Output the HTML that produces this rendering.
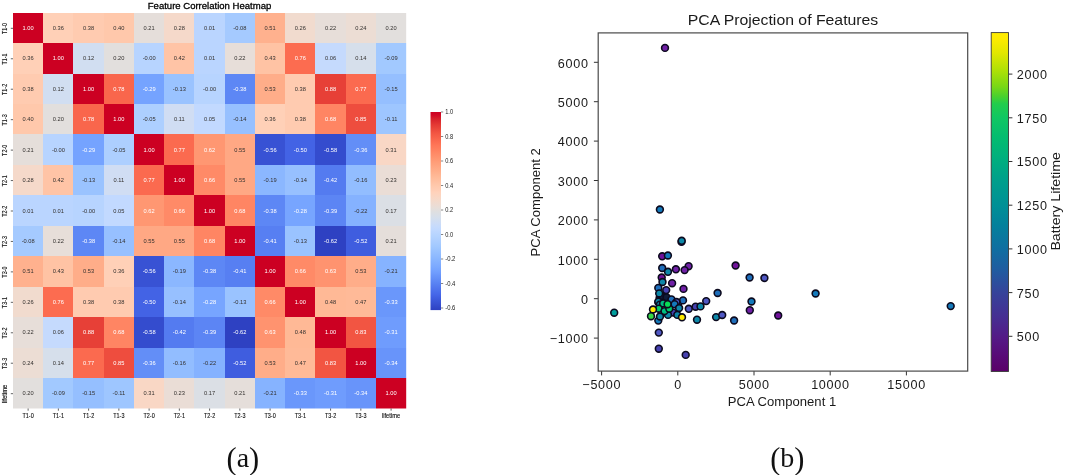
<!DOCTYPE html>
<html><head><meta charset="utf-8"><title>Figure</title>
<style>
html,body{margin:0;padding:0;background:#fff;}
body{width:1065px;height:475px;overflow:hidden;font-family:"Liberation Sans",sans-serif;}
svg{display:block;will-change:transform;filter:blur(0.4px);}
</style></head><body>
<svg width="1065" height="475" viewBox="0 0 1065 475">
<rect width="1065" height="475" fill="#fff"/>
<g shape-rendering="crispEdges">
<rect x="13.00" y="12.70" width="30.55" height="30.75" fill="#cc0022"/>
<rect x="43.25" y="12.70" width="30.55" height="30.75" fill="#ffd0b7"/>
<rect x="73.49" y="12.70" width="30.55" height="30.75" fill="#ffcbb0"/>
<rect x="103.74" y="12.70" width="30.55" height="30.75" fill="#ffc8ab"/>
<rect x="133.98" y="12.70" width="30.55" height="30.75" fill="#e5deda"/>
<rect x="164.23" y="12.70" width="30.55" height="30.75" fill="#f5d9ca"/>
<rect x="194.48" y="12.70" width="30.55" height="30.75" fill="#bad5ff"/>
<rect x="224.72" y="12.70" width="30.55" height="30.75" fill="#a5caff"/>
<rect x="254.97" y="12.70" width="30.55" height="30.75" fill="#ffb18e"/>
<rect x="285.22" y="12.70" width="30.55" height="30.75" fill="#f1dbce"/>
<rect x="315.46" y="12.70" width="30.55" height="30.75" fill="#e7ded9"/>
<rect x="345.71" y="12.70" width="30.55" height="30.75" fill="#ecddd4"/>
<rect x="375.95" y="12.70" width="30.55" height="30.75" fill="#e2dfdd"/>
<rect x="13.00" y="43.15" width="30.55" height="30.75" fill="#ffd0b7"/>
<rect x="43.25" y="43.15" width="30.55" height="30.75" fill="#cc0022"/>
<rect x="73.49" y="43.15" width="30.55" height="30.75" fill="#d1def1"/>
<rect x="103.74" y="43.15" width="30.55" height="30.75" fill="#e2dfdd"/>
<rect x="133.98" y="43.15" width="30.55" height="30.75" fill="#b7d4ff"/>
<rect x="164.23" y="43.15" width="30.55" height="30.75" fill="#ffc4a6"/>
<rect x="194.48" y="43.15" width="30.55" height="30.75" fill="#bad5ff"/>
<rect x="224.72" y="43.15" width="30.55" height="30.75" fill="#e7ded9"/>
<rect x="254.97" y="43.15" width="30.55" height="30.75" fill="#ffc3a4"/>
<rect x="285.22" y="43.15" width="30.55" height="30.75" fill="#fc6c50"/>
<rect x="315.46" y="43.15" width="30.55" height="30.75" fill="#c5dafd"/>
<rect x="345.71" y="43.15" width="30.55" height="30.75" fill="#d6dfeb"/>
<rect x="375.95" y="43.15" width="30.55" height="30.75" fill="#a2c9ff"/>
<rect x="13.00" y="73.59" width="30.55" height="30.75" fill="#ffcbb0"/>
<rect x="43.25" y="73.59" width="30.55" height="30.75" fill="#d1def1"/>
<rect x="73.49" y="73.59" width="30.55" height="30.75" fill="#cc0022"/>
<rect x="103.74" y="73.59" width="30.55" height="30.75" fill="#f9664c"/>
<rect x="133.98" y="73.59" width="30.55" height="30.75" fill="#75a3ff"/>
<rect x="164.23" y="73.59" width="30.55" height="30.75" fill="#9ac3ff"/>
<rect x="194.48" y="73.59" width="30.55" height="30.75" fill="#b7d4ff"/>
<rect x="224.72" y="73.59" width="30.55" height="30.75" fill="#5d87f5"/>
<rect x="254.97" y="73.59" width="30.55" height="30.75" fill="#ffad89"/>
<rect x="285.22" y="73.59" width="30.55" height="30.75" fill="#ffcbb0"/>
<rect x="315.46" y="73.59" width="30.55" height="30.75" fill="#e74037"/>
<rect x="345.71" y="73.59" width="30.55" height="30.75" fill="#fb6a4f"/>
<rect x="375.95" y="73.59" width="30.55" height="30.75" fill="#95bfff"/>
<rect x="13.00" y="104.04" width="30.55" height="30.75" fill="#ffc8ab"/>
<rect x="43.25" y="104.04" width="30.55" height="30.75" fill="#e2dfdd"/>
<rect x="73.49" y="104.04" width="30.55" height="30.75" fill="#f9664c"/>
<rect x="103.74" y="104.04" width="30.55" height="30.75" fill="#cc0022"/>
<rect x="133.98" y="104.04" width="30.55" height="30.75" fill="#adcfff"/>
<rect x="164.23" y="104.04" width="30.55" height="30.75" fill="#d0ddf3"/>
<rect x="194.48" y="104.04" width="30.55" height="30.75" fill="#c2d9ff"/>
<rect x="224.72" y="104.04" width="30.55" height="30.75" fill="#97c0ff"/>
<rect x="254.97" y="104.04" width="30.55" height="30.75" fill="#ffd0b7"/>
<rect x="285.22" y="104.04" width="30.55" height="30.75" fill="#ffcbb0"/>
<rect x="315.46" y="104.04" width="30.55" height="30.75" fill="#ff8563"/>
<rect x="345.71" y="104.04" width="30.55" height="30.75" fill="#ee4d3e"/>
<rect x="375.95" y="104.04" width="30.55" height="30.75" fill="#9ec6ff"/>
<rect x="13.00" y="134.48" width="30.55" height="30.75" fill="#e5deda"/>
<rect x="43.25" y="134.48" width="30.55" height="30.75" fill="#b7d4ff"/>
<rect x="73.49" y="134.48" width="30.55" height="30.75" fill="#75a3ff"/>
<rect x="103.74" y="134.48" width="30.55" height="30.75" fill="#adcfff"/>
<rect x="133.98" y="134.48" width="30.55" height="30.75" fill="#cc0022"/>
<rect x="164.23" y="134.48" width="30.55" height="30.75" fill="#fb6a4f"/>
<rect x="194.48" y="134.48" width="30.55" height="30.75" fill="#ff9772"/>
<rect x="224.72" y="134.48" width="30.55" height="30.75" fill="#ffa884"/>
<rect x="254.97" y="134.48" width="30.55" height="30.75" fill="#3852d4"/>
<rect x="285.22" y="134.48" width="30.55" height="30.75" fill="#4363e5"/>
<rect x="315.46" y="134.48" width="30.55" height="30.75" fill="#344cce"/>
<rect x="345.71" y="134.48" width="30.55" height="30.75" fill="#638ef7"/>
<rect x="375.95" y="134.48" width="30.55" height="30.75" fill="#f9d7c5"/>
<rect x="13.00" y="164.93" width="30.55" height="30.75" fill="#f5d9ca"/>
<rect x="43.25" y="164.93" width="30.55" height="30.75" fill="#ffc4a6"/>
<rect x="73.49" y="164.93" width="30.55" height="30.75" fill="#9ac3ff"/>
<rect x="103.74" y="164.93" width="30.55" height="30.75" fill="#d0ddf3"/>
<rect x="133.98" y="164.93" width="30.55" height="30.75" fill="#fb6a4f"/>
<rect x="164.23" y="164.93" width="30.55" height="30.75" fill="#cc0022"/>
<rect x="194.48" y="164.93" width="30.55" height="30.75" fill="#ff8a67"/>
<rect x="224.72" y="164.93" width="30.55" height="30.75" fill="#ffa884"/>
<rect x="254.97" y="164.93" width="30.55" height="30.75" fill="#8bb7ff"/>
<rect x="285.22" y="164.93" width="30.55" height="30.75" fill="#97c0ff"/>
<rect x="315.46" y="164.93" width="30.55" height="30.75" fill="#547bf0"/>
<rect x="345.71" y="164.93" width="30.55" height="30.75" fill="#92bdff"/>
<rect x="375.95" y="164.93" width="30.55" height="30.75" fill="#eaddd6"/>
<rect x="13.00" y="195.38" width="30.55" height="30.75" fill="#bad5ff"/>
<rect x="43.25" y="195.38" width="30.55" height="30.75" fill="#bad5ff"/>
<rect x="73.49" y="195.38" width="30.55" height="30.75" fill="#b7d4ff"/>
<rect x="103.74" y="195.38" width="30.55" height="30.75" fill="#c2d9ff"/>
<rect x="133.98" y="195.38" width="30.55" height="30.75" fill="#ff9772"/>
<rect x="164.23" y="195.38" width="30.55" height="30.75" fill="#ff8a67"/>
<rect x="194.48" y="195.38" width="30.55" height="30.75" fill="#cc0022"/>
<rect x="224.72" y="195.38" width="30.55" height="30.75" fill="#ff8563"/>
<rect x="254.97" y="195.38" width="30.55" height="30.75" fill="#5d87f5"/>
<rect x="285.22" y="195.38" width="30.55" height="30.75" fill="#77a5ff"/>
<rect x="315.46" y="195.38" width="30.55" height="30.75" fill="#5c85f4"/>
<rect x="345.71" y="195.38" width="30.55" height="30.75" fill="#85b2ff"/>
<rect x="375.95" y="195.38" width="30.55" height="30.75" fill="#dbdfe5"/>
<rect x="13.00" y="225.82" width="30.55" height="30.75" fill="#a5caff"/>
<rect x="43.25" y="225.82" width="30.55" height="30.75" fill="#e7ded9"/>
<rect x="73.49" y="225.82" width="30.55" height="30.75" fill="#5d87f5"/>
<rect x="103.74" y="225.82" width="30.55" height="30.75" fill="#97c0ff"/>
<rect x="133.98" y="225.82" width="30.55" height="30.75" fill="#ffa884"/>
<rect x="164.23" y="225.82" width="30.55" height="30.75" fill="#ffa884"/>
<rect x="194.48" y="225.82" width="30.55" height="30.75" fill="#ff8563"/>
<rect x="224.72" y="225.82" width="30.55" height="30.75" fill="#cc0022"/>
<rect x="254.97" y="225.82" width="30.55" height="30.75" fill="#577ff2"/>
<rect x="285.22" y="225.82" width="30.55" height="30.75" fill="#9ac3ff"/>
<rect x="315.46" y="225.82" width="30.55" height="30.75" fill="#2e41c2"/>
<rect x="345.71" y="225.82" width="30.55" height="30.75" fill="#3f5ddf"/>
<rect x="375.95" y="225.82" width="30.55" height="30.75" fill="#e5deda"/>
<rect x="13.00" y="256.27" width="30.55" height="30.75" fill="#ffb18e"/>
<rect x="43.25" y="256.27" width="30.55" height="30.75" fill="#ffc3a4"/>
<rect x="73.49" y="256.27" width="30.55" height="30.75" fill="#ffad89"/>
<rect x="103.74" y="256.27" width="30.55" height="30.75" fill="#ffd0b7"/>
<rect x="133.98" y="256.27" width="30.55" height="30.75" fill="#3852d4"/>
<rect x="164.23" y="256.27" width="30.55" height="30.75" fill="#8bb7ff"/>
<rect x="194.48" y="256.27" width="30.55" height="30.75" fill="#5d87f5"/>
<rect x="224.72" y="256.27" width="30.55" height="30.75" fill="#577ff2"/>
<rect x="254.97" y="256.27" width="30.55" height="30.75" fill="#cc0022"/>
<rect x="285.22" y="256.27" width="30.55" height="30.75" fill="#ff8a67"/>
<rect x="315.46" y="256.27" width="30.55" height="30.75" fill="#ff936f"/>
<rect x="345.71" y="256.27" width="30.55" height="30.75" fill="#ffad89"/>
<rect x="375.95" y="256.27" width="30.55" height="30.75" fill="#86b3ff"/>
<rect x="13.00" y="286.72" width="30.55" height="30.75" fill="#f1dbce"/>
<rect x="43.25" y="286.72" width="30.55" height="30.75" fill="#fc6c50"/>
<rect x="73.49" y="286.72" width="30.55" height="30.75" fill="#ffcbb0"/>
<rect x="103.74" y="286.72" width="30.55" height="30.75" fill="#ffcbb0"/>
<rect x="133.98" y="286.72" width="30.55" height="30.75" fill="#4363e5"/>
<rect x="164.23" y="286.72" width="30.55" height="30.75" fill="#97c0ff"/>
<rect x="194.48" y="286.72" width="30.55" height="30.75" fill="#77a5ff"/>
<rect x="224.72" y="286.72" width="30.55" height="30.75" fill="#9ac3ff"/>
<rect x="254.97" y="286.72" width="30.55" height="30.75" fill="#ff8a67"/>
<rect x="285.22" y="286.72" width="30.55" height="30.75" fill="#cc0022"/>
<rect x="315.46" y="286.72" width="30.55" height="30.75" fill="#ffb996"/>
<rect x="345.71" y="286.72" width="30.55" height="30.75" fill="#ffba98"/>
<rect x="375.95" y="286.72" width="30.55" height="30.75" fill="#6a97fb"/>
<rect x="13.00" y="317.16" width="30.55" height="30.75" fill="#e7ded9"/>
<rect x="43.25" y="317.16" width="30.55" height="30.75" fill="#c5dafd"/>
<rect x="73.49" y="317.16" width="30.55" height="30.75" fill="#e74037"/>
<rect x="103.74" y="317.16" width="30.55" height="30.75" fill="#ff8563"/>
<rect x="133.98" y="317.16" width="30.55" height="30.75" fill="#344cce"/>
<rect x="164.23" y="317.16" width="30.55" height="30.75" fill="#547bf0"/>
<rect x="194.48" y="317.16" width="30.55" height="30.75" fill="#5c85f4"/>
<rect x="224.72" y="317.16" width="30.55" height="30.75" fill="#2e41c2"/>
<rect x="254.97" y="317.16" width="30.55" height="30.75" fill="#ff936f"/>
<rect x="285.22" y="317.16" width="30.55" height="30.75" fill="#ffb996"/>
<rect x="315.46" y="317.16" width="30.55" height="30.75" fill="#cc0022"/>
<rect x="345.71" y="317.16" width="30.55" height="30.75" fill="#f25542"/>
<rect x="375.95" y="317.16" width="30.55" height="30.75" fill="#6f9cfd"/>
<rect x="13.00" y="347.61" width="30.55" height="30.75" fill="#ecddd4"/>
<rect x="43.25" y="347.61" width="30.55" height="30.75" fill="#d6dfeb"/>
<rect x="73.49" y="347.61" width="30.55" height="30.75" fill="#fb6a4f"/>
<rect x="103.74" y="347.61" width="30.55" height="30.75" fill="#ee4d3e"/>
<rect x="133.98" y="347.61" width="30.55" height="30.75" fill="#638ef7"/>
<rect x="164.23" y="347.61" width="30.55" height="30.75" fill="#92bdff"/>
<rect x="194.48" y="347.61" width="30.55" height="30.75" fill="#85b2ff"/>
<rect x="224.72" y="347.61" width="30.55" height="30.75" fill="#3f5ddf"/>
<rect x="254.97" y="347.61" width="30.55" height="30.75" fill="#ffad89"/>
<rect x="285.22" y="347.61" width="30.55" height="30.75" fill="#ffba98"/>
<rect x="315.46" y="347.61" width="30.55" height="30.75" fill="#f25542"/>
<rect x="345.71" y="347.61" width="30.55" height="30.75" fill="#cc0022"/>
<rect x="375.95" y="347.61" width="30.55" height="30.75" fill="#6894fa"/>
<rect x="13.00" y="378.05" width="30.55" height="30.75" fill="#e2dfdd"/>
<rect x="43.25" y="378.05" width="30.55" height="30.75" fill="#a2c9ff"/>
<rect x="73.49" y="378.05" width="30.55" height="30.75" fill="#95bfff"/>
<rect x="103.74" y="378.05" width="30.55" height="30.75" fill="#9ec6ff"/>
<rect x="133.98" y="378.05" width="30.55" height="30.75" fill="#f9d7c5"/>
<rect x="164.23" y="378.05" width="30.55" height="30.75" fill="#eaddd6"/>
<rect x="194.48" y="378.05" width="30.55" height="30.75" fill="#dbdfe5"/>
<rect x="224.72" y="378.05" width="30.55" height="30.75" fill="#e5deda"/>
<rect x="254.97" y="378.05" width="30.55" height="30.75" fill="#86b3ff"/>
<rect x="285.22" y="378.05" width="30.55" height="30.75" fill="#6a97fb"/>
<rect x="315.46" y="378.05" width="30.55" height="30.75" fill="#6f9cfd"/>
<rect x="345.71" y="378.05" width="30.55" height="30.75" fill="#6894fa"/>
<rect x="375.95" y="378.05" width="30.55" height="30.75" fill="#cc0022"/>
</g>
<rect x="406.20" y="0" width="20" height="430" fill="#fff"/>
<rect x="0" y="408.50" width="430" height="20" fill="#fff"/>
<g font-family="Liberation Sans, sans-serif" font-size="5.7" text-anchor="middle">
<text x="28.12" y="29.92" fill="#ffffff">1.00</text>
<text x="58.37" y="29.92" fill="#33302e">0.36</text>
<text x="88.62" y="29.92" fill="#33302e">0.38</text>
<text x="118.86" y="29.92" fill="#33302e">0.40</text>
<text x="149.11" y="29.92" fill="#33302e">0.21</text>
<text x="179.35" y="29.92" fill="#33302e">0.28</text>
<text x="209.60" y="29.92" fill="#33302e">0.01</text>
<text x="239.85" y="29.92" fill="#33302e">-0.08</text>
<text x="270.09" y="29.92" fill="#33302e">0.51</text>
<text x="300.34" y="29.92" fill="#33302e">0.26</text>
<text x="330.58" y="29.92" fill="#33302e">0.22</text>
<text x="360.83" y="29.92" fill="#33302e">0.24</text>
<text x="391.08" y="29.92" fill="#33302e">0.20</text>
<text x="28.12" y="60.37" fill="#33302e">0.36</text>
<text x="58.37" y="60.37" fill="#ffffff">1.00</text>
<text x="88.62" y="60.37" fill="#33302e">0.12</text>
<text x="118.86" y="60.37" fill="#33302e">0.20</text>
<text x="149.11" y="60.37" fill="#33302e">-0.00</text>
<text x="179.35" y="60.37" fill="#33302e">0.42</text>
<text x="209.60" y="60.37" fill="#33302e">0.01</text>
<text x="239.85" y="60.37" fill="#33302e">0.22</text>
<text x="270.09" y="60.37" fill="#33302e">0.43</text>
<text x="300.34" y="60.37" fill="#ffffff">0.76</text>
<text x="330.58" y="60.37" fill="#33302e">0.06</text>
<text x="360.83" y="60.37" fill="#33302e">0.14</text>
<text x="391.08" y="60.37" fill="#33302e">-0.09</text>
<text x="28.12" y="90.82" fill="#33302e">0.38</text>
<text x="58.37" y="90.82" fill="#33302e">0.12</text>
<text x="88.62" y="90.82" fill="#ffffff">1.00</text>
<text x="118.86" y="90.82" fill="#ffffff">0.78</text>
<text x="149.11" y="90.82" fill="#ffffff">-0.29</text>
<text x="179.35" y="90.82" fill="#33302e">-0.13</text>
<text x="209.60" y="90.82" fill="#33302e">-0.00</text>
<text x="239.85" y="90.82" fill="#ffffff">-0.38</text>
<text x="270.09" y="90.82" fill="#33302e">0.53</text>
<text x="300.34" y="90.82" fill="#33302e">0.38</text>
<text x="330.58" y="90.82" fill="#ffffff">0.88</text>
<text x="360.83" y="90.82" fill="#ffffff">0.77</text>
<text x="391.08" y="90.82" fill="#33302e">-0.15</text>
<text x="28.12" y="121.26" fill="#33302e">0.40</text>
<text x="58.37" y="121.26" fill="#33302e">0.20</text>
<text x="88.62" y="121.26" fill="#ffffff">0.78</text>
<text x="118.86" y="121.26" fill="#ffffff">1.00</text>
<text x="149.11" y="121.26" fill="#33302e">-0.05</text>
<text x="179.35" y="121.26" fill="#33302e">0.11</text>
<text x="209.60" y="121.26" fill="#33302e">0.05</text>
<text x="239.85" y="121.26" fill="#33302e">-0.14</text>
<text x="270.09" y="121.26" fill="#33302e">0.36</text>
<text x="300.34" y="121.26" fill="#33302e">0.38</text>
<text x="330.58" y="121.26" fill="#ffffff">0.68</text>
<text x="360.83" y="121.26" fill="#ffffff">0.85</text>
<text x="391.08" y="121.26" fill="#33302e">-0.11</text>
<text x="28.12" y="151.71" fill="#33302e">0.21</text>
<text x="58.37" y="151.71" fill="#33302e">-0.00</text>
<text x="88.62" y="151.71" fill="#ffffff">-0.29</text>
<text x="118.86" y="151.71" fill="#33302e">-0.05</text>
<text x="149.11" y="151.71" fill="#ffffff">1.00</text>
<text x="179.35" y="151.71" fill="#ffffff">0.77</text>
<text x="209.60" y="151.71" fill="#ffffff">0.62</text>
<text x="239.85" y="151.71" fill="#33302e">0.55</text>
<text x="270.09" y="151.71" fill="#ffffff">-0.56</text>
<text x="300.34" y="151.71" fill="#ffffff">-0.50</text>
<text x="330.58" y="151.71" fill="#ffffff">-0.58</text>
<text x="360.83" y="151.71" fill="#ffffff">-0.36</text>
<text x="391.08" y="151.71" fill="#33302e">0.31</text>
<text x="28.12" y="182.15" fill="#33302e">0.28</text>
<text x="58.37" y="182.15" fill="#33302e">0.42</text>
<text x="88.62" y="182.15" fill="#33302e">-0.13</text>
<text x="118.86" y="182.15" fill="#33302e">0.11</text>
<text x="149.11" y="182.15" fill="#ffffff">0.77</text>
<text x="179.35" y="182.15" fill="#ffffff">1.00</text>
<text x="209.60" y="182.15" fill="#ffffff">0.66</text>
<text x="239.85" y="182.15" fill="#33302e">0.55</text>
<text x="270.09" y="182.15" fill="#33302e">-0.19</text>
<text x="300.34" y="182.15" fill="#33302e">-0.14</text>
<text x="330.58" y="182.15" fill="#ffffff">-0.42</text>
<text x="360.83" y="182.15" fill="#33302e">-0.16</text>
<text x="391.08" y="182.15" fill="#33302e">0.23</text>
<text x="28.12" y="212.60" fill="#33302e">0.01</text>
<text x="58.37" y="212.60" fill="#33302e">0.01</text>
<text x="88.62" y="212.60" fill="#33302e">-0.00</text>
<text x="118.86" y="212.60" fill="#33302e">0.05</text>
<text x="149.11" y="212.60" fill="#ffffff">0.62</text>
<text x="179.35" y="212.60" fill="#ffffff">0.66</text>
<text x="209.60" y="212.60" fill="#ffffff">1.00</text>
<text x="239.85" y="212.60" fill="#ffffff">0.68</text>
<text x="270.09" y="212.60" fill="#ffffff">-0.38</text>
<text x="300.34" y="212.60" fill="#ffffff">-0.28</text>
<text x="330.58" y="212.60" fill="#ffffff">-0.39</text>
<text x="360.83" y="212.60" fill="#33302e">-0.22</text>
<text x="391.08" y="212.60" fill="#33302e">0.17</text>
<text x="28.12" y="243.05" fill="#33302e">-0.08</text>
<text x="58.37" y="243.05" fill="#33302e">0.22</text>
<text x="88.62" y="243.05" fill="#ffffff">-0.38</text>
<text x="118.86" y="243.05" fill="#33302e">-0.14</text>
<text x="149.11" y="243.05" fill="#33302e">0.55</text>
<text x="179.35" y="243.05" fill="#33302e">0.55</text>
<text x="209.60" y="243.05" fill="#ffffff">0.68</text>
<text x="239.85" y="243.05" fill="#ffffff">1.00</text>
<text x="270.09" y="243.05" fill="#ffffff">-0.41</text>
<text x="300.34" y="243.05" fill="#33302e">-0.13</text>
<text x="330.58" y="243.05" fill="#ffffff">-0.62</text>
<text x="360.83" y="243.05" fill="#ffffff">-0.52</text>
<text x="391.08" y="243.05" fill="#33302e">0.21</text>
<text x="28.12" y="273.49" fill="#33302e">0.51</text>
<text x="58.37" y="273.49" fill="#33302e">0.43</text>
<text x="88.62" y="273.49" fill="#33302e">0.53</text>
<text x="118.86" y="273.49" fill="#33302e">0.36</text>
<text x="149.11" y="273.49" fill="#ffffff">-0.56</text>
<text x="179.35" y="273.49" fill="#33302e">-0.19</text>
<text x="209.60" y="273.49" fill="#ffffff">-0.38</text>
<text x="239.85" y="273.49" fill="#ffffff">-0.41</text>
<text x="270.09" y="273.49" fill="#ffffff">1.00</text>
<text x="300.34" y="273.49" fill="#ffffff">0.66</text>
<text x="330.58" y="273.49" fill="#ffffff">0.63</text>
<text x="360.83" y="273.49" fill="#33302e">0.53</text>
<text x="391.08" y="273.49" fill="#33302e">-0.21</text>
<text x="28.12" y="303.94" fill="#33302e">0.26</text>
<text x="58.37" y="303.94" fill="#ffffff">0.76</text>
<text x="88.62" y="303.94" fill="#33302e">0.38</text>
<text x="118.86" y="303.94" fill="#33302e">0.38</text>
<text x="149.11" y="303.94" fill="#ffffff">-0.50</text>
<text x="179.35" y="303.94" fill="#33302e">-0.14</text>
<text x="209.60" y="303.94" fill="#ffffff">-0.28</text>
<text x="239.85" y="303.94" fill="#33302e">-0.13</text>
<text x="270.09" y="303.94" fill="#ffffff">0.66</text>
<text x="300.34" y="303.94" fill="#ffffff">1.00</text>
<text x="330.58" y="303.94" fill="#33302e">0.48</text>
<text x="360.83" y="303.94" fill="#33302e">0.47</text>
<text x="391.08" y="303.94" fill="#ffffff">-0.33</text>
<text x="28.12" y="334.38" fill="#33302e">0.22</text>
<text x="58.37" y="334.38" fill="#33302e">0.06</text>
<text x="88.62" y="334.38" fill="#ffffff">0.88</text>
<text x="118.86" y="334.38" fill="#ffffff">0.68</text>
<text x="149.11" y="334.38" fill="#ffffff">-0.58</text>
<text x="179.35" y="334.38" fill="#ffffff">-0.42</text>
<text x="209.60" y="334.38" fill="#ffffff">-0.39</text>
<text x="239.85" y="334.38" fill="#ffffff">-0.62</text>
<text x="270.09" y="334.38" fill="#ffffff">0.63</text>
<text x="300.34" y="334.38" fill="#33302e">0.48</text>
<text x="330.58" y="334.38" fill="#ffffff">1.00</text>
<text x="360.83" y="334.38" fill="#ffffff">0.83</text>
<text x="391.08" y="334.38" fill="#ffffff">-0.31</text>
<text x="28.12" y="364.83" fill="#33302e">0.24</text>
<text x="58.37" y="364.83" fill="#33302e">0.14</text>
<text x="88.62" y="364.83" fill="#ffffff">0.77</text>
<text x="118.86" y="364.83" fill="#ffffff">0.85</text>
<text x="149.11" y="364.83" fill="#ffffff">-0.36</text>
<text x="179.35" y="364.83" fill="#33302e">-0.16</text>
<text x="209.60" y="364.83" fill="#33302e">-0.22</text>
<text x="239.85" y="364.83" fill="#ffffff">-0.52</text>
<text x="270.09" y="364.83" fill="#33302e">0.53</text>
<text x="300.34" y="364.83" fill="#33302e">0.47</text>
<text x="330.58" y="364.83" fill="#ffffff">0.83</text>
<text x="360.83" y="364.83" fill="#ffffff">1.00</text>
<text x="391.08" y="364.83" fill="#ffffff">-0.34</text>
<text x="28.12" y="395.28" fill="#33302e">0.20</text>
<text x="58.37" y="395.28" fill="#33302e">-0.09</text>
<text x="88.62" y="395.28" fill="#33302e">-0.15</text>
<text x="118.86" y="395.28" fill="#33302e">-0.11</text>
<text x="149.11" y="395.28" fill="#33302e">0.31</text>
<text x="179.35" y="395.28" fill="#33302e">0.23</text>
<text x="209.60" y="395.28" fill="#33302e">0.17</text>
<text x="239.85" y="395.28" fill="#33302e">0.21</text>
<text x="270.09" y="395.28" fill="#33302e">-0.21</text>
<text x="300.34" y="395.28" fill="#ffffff">-0.33</text>
<text x="330.58" y="395.28" fill="#ffffff">-0.31</text>
<text x="360.83" y="395.28" fill="#ffffff">-0.34</text>
<text x="391.08" y="395.28" fill="#ffffff">1.00</text>
</g>
<g font-family="Liberation Sans, sans-serif" font-size="7" fill="#0a0a0a" stroke="#0a0a0a" stroke-width="0.12" text-anchor="middle" lengthAdjust="spacingAndGlyphs">
<text x="28.12" y="418.3" textLength="11.2" lengthAdjust="spacingAndGlyphs">T1-0</text>
<line x1="28.12" y1="408.50" x2="28.12" y2="410.70" stroke="#222" stroke-width="0.7"/>
<text x="58.37" y="418.3" textLength="11.2" lengthAdjust="spacingAndGlyphs">T1-1</text>
<line x1="58.37" y1="408.50" x2="58.37" y2="410.70" stroke="#222" stroke-width="0.7"/>
<text x="88.62" y="418.3" textLength="11.2" lengthAdjust="spacingAndGlyphs">T1-2</text>
<line x1="88.62" y1="408.50" x2="88.62" y2="410.70" stroke="#222" stroke-width="0.7"/>
<text x="118.86" y="418.3" textLength="11.2" lengthAdjust="spacingAndGlyphs">T1-3</text>
<line x1="118.86" y1="408.50" x2="118.86" y2="410.70" stroke="#222" stroke-width="0.7"/>
<text x="149.11" y="418.3" textLength="11.2" lengthAdjust="spacingAndGlyphs">T2-0</text>
<line x1="149.11" y1="408.50" x2="149.11" y2="410.70" stroke="#222" stroke-width="0.7"/>
<text x="179.35" y="418.3" textLength="11.2" lengthAdjust="spacingAndGlyphs">T2-1</text>
<line x1="179.35" y1="408.50" x2="179.35" y2="410.70" stroke="#222" stroke-width="0.7"/>
<text x="209.60" y="418.3" textLength="11.2" lengthAdjust="spacingAndGlyphs">T2-2</text>
<line x1="209.60" y1="408.50" x2="209.60" y2="410.70" stroke="#222" stroke-width="0.7"/>
<text x="239.85" y="418.3" textLength="11.2" lengthAdjust="spacingAndGlyphs">T2-3</text>
<line x1="239.85" y1="408.50" x2="239.85" y2="410.70" stroke="#222" stroke-width="0.7"/>
<text x="270.09" y="418.3" textLength="11.2" lengthAdjust="spacingAndGlyphs">T3-0</text>
<line x1="270.09" y1="408.50" x2="270.09" y2="410.70" stroke="#222" stroke-width="0.7"/>
<text x="300.34" y="418.3" textLength="11.2" lengthAdjust="spacingAndGlyphs">T3-1</text>
<line x1="300.34" y1="408.50" x2="300.34" y2="410.70" stroke="#222" stroke-width="0.7"/>
<text x="330.58" y="418.3" textLength="11.2" lengthAdjust="spacingAndGlyphs">T3-2</text>
<line x1="330.58" y1="408.50" x2="330.58" y2="410.70" stroke="#222" stroke-width="0.7"/>
<text x="360.83" y="418.3" textLength="11.2" lengthAdjust="spacingAndGlyphs">T3-3</text>
<line x1="360.83" y1="408.50" x2="360.83" y2="410.70" stroke="#222" stroke-width="0.7"/>
<text x="391.08" y="418.3" textLength="18.2" lengthAdjust="spacingAndGlyphs">lifetime</text>
<line x1="391.08" y1="408.50" x2="391.08" y2="410.70" stroke="#222" stroke-width="0.7"/>
<text transform="translate(6.6,28.52) rotate(-90)" textLength="11.2" lengthAdjust="spacingAndGlyphs">T1-0</text>
<line x1="10.80" y1="28.32" x2="13.00" y2="28.32" stroke="#222" stroke-width="0.7"/>
<text transform="translate(6.6,58.97) rotate(-90)" textLength="11.2" lengthAdjust="spacingAndGlyphs">T1-1</text>
<line x1="10.80" y1="58.77" x2="13.00" y2="58.77" stroke="#222" stroke-width="0.7"/>
<text transform="translate(6.6,89.42) rotate(-90)" textLength="11.2" lengthAdjust="spacingAndGlyphs">T1-2</text>
<line x1="10.80" y1="89.22" x2="13.00" y2="89.22" stroke="#222" stroke-width="0.7"/>
<text transform="translate(6.6,119.86) rotate(-90)" textLength="11.2" lengthAdjust="spacingAndGlyphs">T1-3</text>
<line x1="10.80" y1="119.66" x2="13.00" y2="119.66" stroke="#222" stroke-width="0.7"/>
<text transform="translate(6.6,150.31) rotate(-90)" textLength="11.2" lengthAdjust="spacingAndGlyphs">T2-0</text>
<line x1="10.80" y1="150.11" x2="13.00" y2="150.11" stroke="#222" stroke-width="0.7"/>
<text transform="translate(6.6,180.75) rotate(-90)" textLength="11.2" lengthAdjust="spacingAndGlyphs">T2-1</text>
<line x1="10.80" y1="180.55" x2="13.00" y2="180.55" stroke="#222" stroke-width="0.7"/>
<text transform="translate(6.6,211.20) rotate(-90)" textLength="11.2" lengthAdjust="spacingAndGlyphs">T2-2</text>
<line x1="10.80" y1="211.00" x2="13.00" y2="211.00" stroke="#222" stroke-width="0.7"/>
<text transform="translate(6.6,241.65) rotate(-90)" textLength="11.2" lengthAdjust="spacingAndGlyphs">T2-3</text>
<line x1="10.80" y1="241.45" x2="13.00" y2="241.45" stroke="#222" stroke-width="0.7"/>
<text transform="translate(6.6,272.09) rotate(-90)" textLength="11.2" lengthAdjust="spacingAndGlyphs">T3-0</text>
<line x1="10.80" y1="271.89" x2="13.00" y2="271.89" stroke="#222" stroke-width="0.7"/>
<text transform="translate(6.6,302.54) rotate(-90)" textLength="11.2" lengthAdjust="spacingAndGlyphs">T3-1</text>
<line x1="10.80" y1="302.34" x2="13.00" y2="302.34" stroke="#222" stroke-width="0.7"/>
<text transform="translate(6.6,332.98) rotate(-90)" textLength="11.2" lengthAdjust="spacingAndGlyphs">T3-2</text>
<line x1="10.80" y1="332.78" x2="13.00" y2="332.78" stroke="#222" stroke-width="0.7"/>
<text transform="translate(6.6,363.43) rotate(-90)" textLength="11.2" lengthAdjust="spacingAndGlyphs">T3-3</text>
<line x1="10.80" y1="363.23" x2="13.00" y2="363.23" stroke="#222" stroke-width="0.7"/>
<text transform="translate(6.6,393.88) rotate(-90)" textLength="18.2" lengthAdjust="spacingAndGlyphs">lifetime</text>
<line x1="10.80" y1="393.68" x2="13.00" y2="393.68" stroke="#222" stroke-width="0.7"/>
</g>
<text x="209.5" y="9.3" font-family="Liberation Sans, sans-serif" font-size="8.8" fill="#000" stroke="#000" stroke-width="0.28" text-anchor="middle" textLength="123.5" lengthAdjust="spacingAndGlyphs">Feature Correlation Heatmap</text>
<defs><linearGradient id="gcw" x1="0" y1="1" x2="0" y2="0">
<stop offset="0.0000" stop-color="#2e41c2"/>
<stop offset="0.0156" stop-color="#3248c9"/>
<stop offset="0.0312" stop-color="#3750d1"/>
<stop offset="0.0469" stop-color="#3b57d9"/>
<stop offset="0.0625" stop-color="#405ee1"/>
<stop offset="0.0781" stop-color="#4566e8"/>
<stop offset="0.0938" stop-color="#4a6eeb"/>
<stop offset="0.1094" stop-color="#5075ee"/>
<stop offset="0.1250" stop-color="#557df1"/>
<stop offset="0.1406" stop-color="#5b85f4"/>
<stop offset="0.1562" stop-color="#628df7"/>
<stop offset="0.1719" stop-color="#6894fa"/>
<stop offset="0.1875" stop-color="#6f9cfd"/>
<stop offset="0.2031" stop-color="#75a3ff"/>
<stop offset="0.2188" stop-color="#7ba9ff"/>
<stop offset="0.2344" stop-color="#81aeff"/>
<stop offset="0.2500" stop-color="#86b3ff"/>
<stop offset="0.2656" stop-color="#8cb8ff"/>
<stop offset="0.2812" stop-color="#92bdff"/>
<stop offset="0.2969" stop-color="#98c1ff"/>
<stop offset="0.3125" stop-color="#9ec6ff"/>
<stop offset="0.3281" stop-color="#a4caff"/>
<stop offset="0.3438" stop-color="#aacdff"/>
<stop offset="0.3594" stop-color="#b0d0ff"/>
<stop offset="0.3750" stop-color="#b5d4ff"/>
<stop offset="0.3906" stop-color="#bbd6ff"/>
<stop offset="0.4062" stop-color="#c1d9ff"/>
<stop offset="0.4219" stop-color="#c6dbfc"/>
<stop offset="0.4375" stop-color="#ccdcf7"/>
<stop offset="0.4531" stop-color="#d1def1"/>
<stop offset="0.4688" stop-color="#d6dfeb"/>
<stop offset="0.4844" stop-color="#dbdfe5"/>
<stop offset="0.5000" stop-color="#e0dfdf"/>
<stop offset="0.5156" stop-color="#e7ded9"/>
<stop offset="0.5312" stop-color="#eddcd3"/>
<stop offset="0.5469" stop-color="#f2dacd"/>
<stop offset="0.5625" stop-color="#f7d8c7"/>
<stop offset="0.5781" stop-color="#fbd5c1"/>
<stop offset="0.5938" stop-color="#ffd2bb"/>
<stop offset="0.6094" stop-color="#ffcdb4"/>
<stop offset="0.6250" stop-color="#ffc9ad"/>
<stop offset="0.6406" stop-color="#ffc4a6"/>
<stop offset="0.6562" stop-color="#ffbf9f"/>
<stop offset="0.6719" stop-color="#ffba98"/>
<stop offset="0.6875" stop-color="#ffb491"/>
<stop offset="0.7031" stop-color="#ffae8a"/>
<stop offset="0.7188" stop-color="#ffa884"/>
<stop offset="0.7344" stop-color="#ffa27d"/>
<stop offset="0.7500" stop-color="#ff9c77"/>
<stop offset="0.7656" stop-color="#ff9570"/>
<stop offset="0.7812" stop-color="#ff8e6a"/>
<stop offset="0.7969" stop-color="#ff8764"/>
<stop offset="0.8125" stop-color="#ff7f5e"/>
<stop offset="0.8281" stop-color="#ff7859"/>
<stop offset="0.8438" stop-color="#fd7053"/>
<stop offset="0.8594" stop-color="#fa684e"/>
<stop offset="0.8750" stop-color="#f75f48"/>
<stop offset="0.8906" stop-color="#f35743"/>
<stop offset="0.9062" stop-color="#ee4d3e"/>
<stop offset="0.9219" stop-color="#e84338"/>
<stop offset="0.9375" stop-color="#e33833"/>
<stop offset="0.9531" stop-color="#dc2b2e"/>
<stop offset="0.9688" stop-color="#d61d29"/>
<stop offset="0.9844" stop-color="#d10825"/>
<stop offset="1.0000" stop-color="#cc0022"/>
</linearGradient>
<linearGradient id="gvi" x1="0" y1="1" x2="0" y2="0">
<stop offset="0.0000" stop-color="#5a0068"/>
<stop offset="0.0500" stop-color="#580c78"/>
<stop offset="0.1000" stop-color="#541a86"/>
<stop offset="0.1600" stop-color="#462e92"/>
<stop offset="0.2300" stop-color="#37429a"/>
<stop offset="0.3000" stop-color="#205ca0"/>
<stop offset="0.3600" stop-color="#106ea1"/>
<stop offset="0.4300" stop-color="#04809c"/>
<stop offset="0.4900" stop-color="#009096"/>
<stop offset="0.5600" stop-color="#009e8c"/>
<stop offset="0.6200" stop-color="#00ad80"/>
<stop offset="0.6900" stop-color="#04bc70"/>
<stop offset="0.7500" stop-color="#10c762"/>
<stop offset="0.7900" stop-color="#22cd4c"/>
<stop offset="0.8100" stop-color="#46d030"/>
<stop offset="0.8400" stop-color="#78d716"/>
<stop offset="0.8900" stop-color="#b0e106"/>
<stop offset="0.9400" stop-color="#e2e700"/>
<stop offset="0.9800" stop-color="#fceb00"/>
<stop offset="1.0000" stop-color="#ffec00"/>
</linearGradient></defs>
<rect x="430.50" y="112.00" width="10.50" height="198.10" fill="url(#gcw)"/>
<g font-family="Liberation Sans, sans-serif" font-size="6.3" fill="#1a1a1a">
<line x1="441.00" y1="112.00" x2="443.20" y2="112.00" stroke="#333" stroke-width="0.6"/>
<text x="445.2" y="114.00" textLength="7.9" lengthAdjust="spacingAndGlyphs">1.0</text>
<line x1="441.00" y1="136.50" x2="443.20" y2="136.50" stroke="#333" stroke-width="0.6"/>
<text x="445.2" y="138.50" textLength="7.9" lengthAdjust="spacingAndGlyphs">0.8</text>
<line x1="441.00" y1="161.00" x2="443.20" y2="161.00" stroke="#333" stroke-width="0.6"/>
<text x="445.2" y="163.00" textLength="7.9" lengthAdjust="spacingAndGlyphs">0.6</text>
<line x1="441.00" y1="185.50" x2="443.20" y2="185.50" stroke="#333" stroke-width="0.6"/>
<text x="445.2" y="187.50" textLength="7.9" lengthAdjust="spacingAndGlyphs">0.4</text>
<line x1="441.00" y1="210.00" x2="443.20" y2="210.00" stroke="#333" stroke-width="0.6"/>
<text x="445.2" y="212.00" textLength="7.9" lengthAdjust="spacingAndGlyphs">0.2</text>
<line x1="441.00" y1="234.50" x2="443.20" y2="234.50" stroke="#333" stroke-width="0.6"/>
<text x="445.2" y="236.50" textLength="7.9" lengthAdjust="spacingAndGlyphs">0.0</text>
<line x1="441.00" y1="259.00" x2="443.20" y2="259.00" stroke="#333" stroke-width="0.6"/>
<text x="445.2" y="261.00" textLength="10.2" lengthAdjust="spacingAndGlyphs">-0.2</text>
<line x1="441.00" y1="283.50" x2="443.20" y2="283.50" stroke="#333" stroke-width="0.6"/>
<text x="445.2" y="285.50" textLength="10.2" lengthAdjust="spacingAndGlyphs">-0.4</text>
<line x1="441.00" y1="308.00" x2="443.20" y2="308.00" stroke="#333" stroke-width="0.6"/>
<text x="445.2" y="310.00" textLength="10.2" lengthAdjust="spacingAndGlyphs">-0.6</text>
</g>
<g font-family="Liberation Sans, sans-serif" fill="#1a1a1a">
<line x1="593.90" y1="62.30" x2="598.20" y2="62.30" stroke="#333" stroke-width="1"/>
<text x="588.7" y="67.50" font-size="12.6" letter-spacing="0.7" text-anchor="end">6000</text>
<line x1="593.90" y1="101.70" x2="598.20" y2="101.70" stroke="#333" stroke-width="1"/>
<text x="588.7" y="106.90" font-size="12.6" letter-spacing="0.7" text-anchor="end">5000</text>
<line x1="593.90" y1="141.10" x2="598.20" y2="141.10" stroke="#333" stroke-width="1"/>
<text x="588.7" y="146.30" font-size="12.6" letter-spacing="0.7" text-anchor="end">4000</text>
<line x1="593.90" y1="180.50" x2="598.20" y2="180.50" stroke="#333" stroke-width="1"/>
<text x="588.7" y="185.70" font-size="12.6" letter-spacing="0.7" text-anchor="end">3000</text>
<line x1="593.90" y1="219.90" x2="598.20" y2="219.90" stroke="#333" stroke-width="1"/>
<text x="588.7" y="225.10" font-size="12.6" letter-spacing="0.7" text-anchor="end">2000</text>
<line x1="593.90" y1="259.30" x2="598.20" y2="259.30" stroke="#333" stroke-width="1"/>
<text x="588.7" y="264.50" font-size="12.6" letter-spacing="0.7" text-anchor="end">1000</text>
<line x1="593.90" y1="298.70" x2="598.20" y2="298.70" stroke="#333" stroke-width="1"/>
<text x="588.7" y="303.90" font-size="12.6" letter-spacing="0.7" text-anchor="end">0</text>
<line x1="593.90" y1="338.10" x2="598.20" y2="338.10" stroke="#333" stroke-width="1"/>
<text x="588.7" y="343.30" font-size="12.6" letter-spacing="0.7" text-anchor="end">−1000</text>
<line x1="601.60" y1="371.10" x2="601.60" y2="375.40" stroke="#333" stroke-width="1"/>
<text x="601.80" y="388.8" font-size="12.6" letter-spacing="0.7" text-anchor="middle">−5000</text>
<line x1="677.80" y1="371.10" x2="677.80" y2="375.40" stroke="#333" stroke-width="1"/>
<text x="678.00" y="388.8" font-size="12.6" letter-spacing="0.7" text-anchor="middle">0</text>
<line x1="754.00" y1="371.10" x2="754.00" y2="375.40" stroke="#333" stroke-width="1"/>
<text x="754.20" y="388.8" font-size="12.6" letter-spacing="0.7" text-anchor="middle">5000</text>
<line x1="830.20" y1="371.10" x2="830.20" y2="375.40" stroke="#333" stroke-width="1"/>
<text x="830.40" y="388.8" font-size="12.6" letter-spacing="0.7" text-anchor="middle">10000</text>
<line x1="906.40" y1="371.10" x2="906.40" y2="375.40" stroke="#333" stroke-width="1"/>
<text x="906.60" y="388.8" font-size="12.6" letter-spacing="0.7" text-anchor="middle">15000</text>
<text x="783" y="24.8" font-size="15" text-anchor="middle" textLength="190.6" lengthAdjust="spacingAndGlyphs">PCA Projection of Features</text>
<text x="782" y="406" font-size="12.4" text-anchor="middle" textLength="108.4" lengthAdjust="spacingAndGlyphs">PCA Component 1</text>
<text transform="translate(539.8,202.3) rotate(-90)" font-size="12.4" text-anchor="middle" textLength="108.2" lengthAdjust="spacingAndGlyphs">PCA Component 2</text>
<text transform="translate(1060.3,201.3) rotate(-90)" font-size="12.4" text-anchor="middle" textLength="98.6" lengthAdjust="spacingAndGlyphs">Battery Lifetime</text>
<line x1="1008.5" y1="74.10" x2="1012.4" y2="74.10" stroke="#333" stroke-width="1"/>
<text x="1016.8" y="79.00" font-size="12.6" letter-spacing="0.7">2000</text>
<line x1="1008.5" y1="117.80" x2="1012.4" y2="117.80" stroke="#333" stroke-width="1"/>
<text x="1016.8" y="122.70" font-size="12.6" letter-spacing="0.7">1750</text>
<line x1="1008.5" y1="161.50" x2="1012.4" y2="161.50" stroke="#333" stroke-width="1"/>
<text x="1016.8" y="166.40" font-size="12.6" letter-spacing="0.7">1500</text>
<line x1="1008.5" y1="205.20" x2="1012.4" y2="205.20" stroke="#333" stroke-width="1"/>
<text x="1016.8" y="210.10" font-size="12.6" letter-spacing="0.7">1250</text>
<line x1="1008.5" y1="248.90" x2="1012.4" y2="248.90" stroke="#333" stroke-width="1"/>
<text x="1016.8" y="253.80" font-size="12.6" letter-spacing="0.7">1000</text>
<line x1="1008.5" y1="292.60" x2="1012.4" y2="292.60" stroke="#333" stroke-width="1"/>
<text x="1016.8" y="297.50" font-size="12.6" letter-spacing="0.7">750</text>
<line x1="1008.5" y1="336.30" x2="1012.4" y2="336.30" stroke="#333" stroke-width="1"/>
<text x="1016.8" y="341.20" font-size="12.6" letter-spacing="0.7">500</text>
</g>
<rect x="598.20" y="32.90" width="369.50" height="338.20" fill="none" stroke="#4a4a4a" stroke-width="1.2"/>
<rect x="991.2" y="32.6" width="17.3" height="338.9" fill="url(#gvi)" stroke="#3a3a3a" stroke-width="0.9"/>
<g stroke="#0c0a1e" stroke-width="1.6">
<circle cx="665.0" cy="47.9" r="3.4" fill="#7020a6"/>
<circle cx="659.9" cy="209.5" r="3.4" fill="#147abb"/>
<circle cx="681.5" cy="241.9" r="3.4" fill="#70129a"/>
<circle cx="681.7" cy="240.8" r="3.4" fill="#0d88a8"/>
<circle cx="662.2" cy="256.3" r="3.4" fill="#70129a"/>
<circle cx="667.9" cy="255.5" r="3.4" fill="#147abb"/>
<circle cx="662.2" cy="268.0" r="3.4" fill="#1e6eba"/>
<circle cx="668.0" cy="271.8" r="3.4" fill="#0d88a8"/>
<circle cx="675.9" cy="269.3" r="3.4" fill="#7020a6"/>
<circle cx="688.6" cy="266.2" r="3.4" fill="#7020a6"/>
<circle cx="684.6" cy="270.1" r="3.4" fill="#7020a6"/>
<circle cx="661.7" cy="277.5" r="3.4" fill="#70129a"/>
<circle cx="662.5" cy="282.0" r="3.4" fill="#0d88a8"/>
<circle cx="672.1" cy="283.2" r="3.4" fill="#7020a6"/>
<circle cx="659.6" cy="298.0" r="3.4" fill="#0f1c3a"/>
<circle cx="660.8" cy="299.6" r="3.4" fill="#0d88a8"/>
<circle cx="664.6" cy="299.2" r="3.4" fill="#0f1c3a"/>
<circle cx="668.2" cy="300.4" r="3.4" fill="#1e6eba"/>
<circle cx="658.4" cy="302.4" r="3.4" fill="#0d88a8"/>
<circle cx="672.4" cy="302.4" r="3.4" fill="#147abb"/>
<circle cx="678.2" cy="303.2" r="3.4" fill="#1e6eba"/>
<circle cx="662.5" cy="296.0" r="3.4" fill="#0f1c3a"/>
<circle cx="666.5" cy="297.2" r="3.4" fill="#0f1c3a"/>
<circle cx="658.3" cy="287.9" r="3.4" fill="#1e6eba"/>
<circle cx="666.2" cy="290.1" r="3.4" fill="#4641b0"/>
<circle cx="683.5" cy="288.9" r="3.4" fill="#7020a6"/>
<circle cx="659.2" cy="293.4" r="3.4" fill="#0d88a8"/>
<circle cx="671.5" cy="299.4" r="3.4" fill="#1e6eba"/>
<circle cx="683.0" cy="300.4" r="3.4" fill="#1e6eba"/>
<circle cx="676.5" cy="302.0" r="3.4" fill="#5058c4"/>
<circle cx="658.3" cy="301.6" r="3.4" fill="#0d88a8"/>
<circle cx="659.8" cy="304.6" r="3.4" fill="#0d88a8"/>
<circle cx="663.1" cy="303.4" r="3.4" fill="#00be82"/>
<circle cx="674.6" cy="304.2" r="3.4" fill="#147abb"/>
<circle cx="679.1" cy="308.0" r="3.4" fill="#0d88a8"/>
<circle cx="673.3" cy="312.6" r="3.4" fill="#4641b0"/>
<circle cx="668.0" cy="314.9" r="3.4" fill="#0d88a8"/>
<circle cx="677.3" cy="314.9" r="3.4" fill="#0d88a8"/>
<circle cx="658.7" cy="308.7" r="3.4" fill="#00cd69"/>
<circle cx="653.0" cy="309.5" r="3.4" fill="#ffeb00"/>
<circle cx="664.5" cy="311.1" r="3.4" fill="#00be82"/>
<circle cx="669.3" cy="308.7" r="3.4" fill="#00cd69"/>
<circle cx="667.6" cy="304.2" r="3.4" fill="#08dc55"/>
<circle cx="658.3" cy="320.6" r="3.4" fill="#147abb"/>
<circle cx="660.0" cy="316.5" r="3.4" fill="#0d88a8"/>
<circle cx="651.0" cy="316.2" r="3.4" fill="#36d846"/>
<circle cx="682.0" cy="317.3" r="3.4" fill="#ffeb00"/>
<circle cx="688.8" cy="308.8" r="3.4" fill="#5058c4"/>
<circle cx="695.6" cy="306.7" r="3.4" fill="#4641b0"/>
<circle cx="700.5" cy="306.4" r="3.4" fill="#0d88a8"/>
<circle cx="706.2" cy="301.1" r="3.4" fill="#5058c4"/>
<circle cx="697.0" cy="319.7" r="3.4" fill="#0d88a8"/>
<circle cx="614.2" cy="312.7" r="3.4" fill="#009e9c"/>
<circle cx="717.6" cy="293.0" r="3.4" fill="#1e6eba"/>
<circle cx="716.1" cy="317.1" r="3.4" fill="#0d88a8"/>
<circle cx="722.2" cy="315.0" r="3.4" fill="#5058c4"/>
<circle cx="734.1" cy="320.5" r="3.4" fill="#1e6eba"/>
<circle cx="658.8" cy="332.6" r="3.4" fill="#5058c4"/>
<circle cx="658.8" cy="348.7" r="3.4" fill="#4641b0"/>
<circle cx="685.7" cy="354.9" r="3.4" fill="#4641b0"/>
<circle cx="735.6" cy="265.5" r="3.4" fill="#70129a"/>
<circle cx="749.6" cy="277.5" r="3.4" fill="#1e6eba"/>
<circle cx="764.4" cy="278.0" r="3.4" fill="#5058c4"/>
<circle cx="751.5" cy="301.5" r="3.4" fill="#147abb"/>
<circle cx="749.8" cy="310.2" r="3.4" fill="#7020a6"/>
<circle cx="778.2" cy="315.5" r="3.4" fill="#70129a"/>
<circle cx="815.6" cy="293.5" r="3.4" fill="#147abb"/>
<circle cx="950.7" cy="306.1" r="3.4" fill="#147abb"/>
</g>
<g font-family="Liberation Serif, serif" font-size="28" fill="#111" text-anchor="middle">
<text x="242.9" y="467.4"><tspan font-size="30.5" dy="1.4">(</tspan><tspan dy="-1.4">a</tspan><tspan font-size="30.5" dy="1.4">)</tspan></text>
<text x="787.3" y="467.4"><tspan font-size="30.5" dy="1.4">(</tspan><tspan dy="-1.4">b</tspan><tspan font-size="30.5" dy="1.4">)</tspan></text>
</g>
</svg>
</body></html>
